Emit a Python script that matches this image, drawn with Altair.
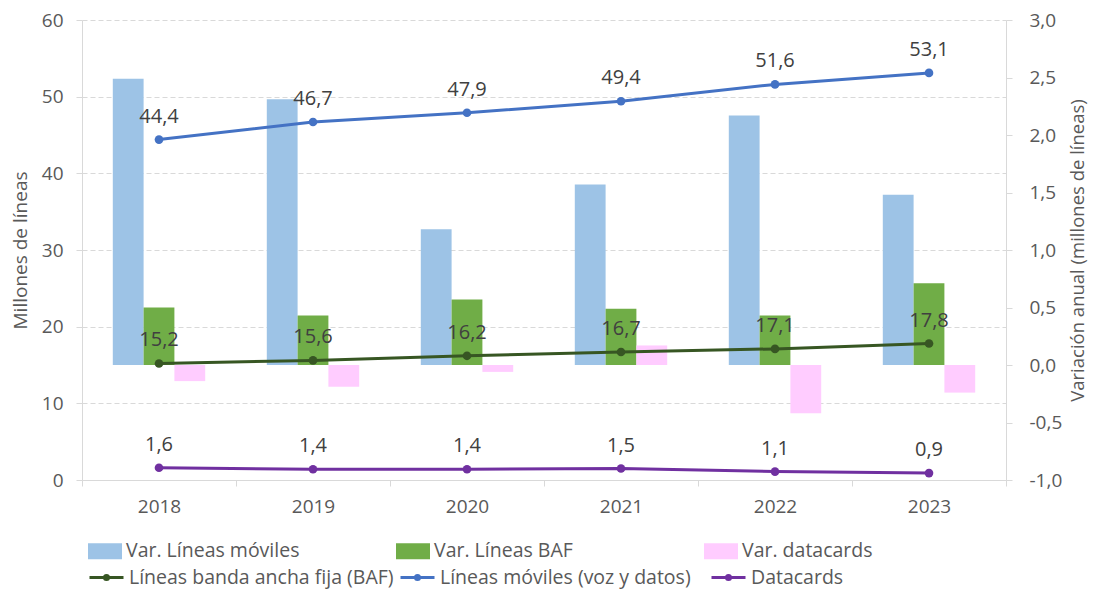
import altair as alt
import pandas as pd

years = ["2018", "2019", "2020", "2021", "2022", "2023"]

# Variación anual (eje derecho, millones de líneas)
var_moviles = [2.49, 2.31, 1.18, 1.57, 2.17, 1.48]
var_baf = [0.50, 0.43, 0.57, 0.49, 0.43, 0.71]
var_datacards = [-0.14, -0.19, -0.06, 0.17, -0.42, -0.24]

# Totales (eje izquierdo, millones de líneas)
lineas_baf = [15.2, 15.6, 16.2, 16.7, 17.1, 17.8]
lineas_moviles = [44.4, 46.7, 47.9, 49.4, 51.6, 53.1]
datacards = [1.6, 1.4, 1.4, 1.5, 1.1, 0.9]

bar_names = ["Var. Líneas móviles", "Var. Líneas BAF", "Var. datacards"]
bar_colors = ["#9DC3E6", "#70AD47", "#FFCCFF"]
line_names = ["Líneas banda ancha fija (BAF)", "Líneas móviles (voz y datos)", "Datacards"]
line_colors = ["#375623", "#4472C4", "#7030A0"]

FONT = "Open Sans"
TXT = "#595959"
GRID = "#D9D9D9"

bar_rows = []
for name, vals in zip(bar_names, [var_moviles, var_baf, var_datacards]):
    for y, v in zip(years, vals):
        bar_rows.append({"year": y, "serie": name, "value": v})
bar_df = pd.DataFrame(bar_rows)

line_rows = []
for name, vals in zip(line_names, [lineas_baf, lineas_moviles, datacards]):
    for y, v in zip(years, vals):
        line_rows.append({"year": y, "serie": name, "value": v,
                          "label": f"{v:.1f}".replace(".", ",")})
line_df = pd.DataFrame(line_rows)

x_enc = alt.X("year:N", sort=years, title=None,
              scale=alt.Scale(paddingInner=0, paddingOuter=0),
              axis=alt.Axis(labelFontSize=19, labelColor=TXT, labelFont=FONT,
                            tickBand="extent", tickSize=6, tickColor=GRID,
                            domainColor=GRID, labelPadding=11, grid=False,
                            labelAngle=0))

bars = alt.Chart(bar_df).mark_bar().encode(
    x=x_enc,
    xOffset=alt.XOffset("serie:N", sort=bar_names,
                        scale=alt.Scale(domain=bar_names, paddingInner=0, paddingOuter=1)),
    y=alt.Y("value:Q",
            scale=alt.Scale(domain=[-1, 3], nice=False, zero=True),
            axis=alt.Axis(orient="right", values=[-1, -0.5, 0, 0.5, 1, 1.5, 2, 2.5, 3],
                          labelExpr="replace(replace(format(datum.value, '.1f'), '.', ','), '\u2212', '-')",
                          labelFontSize=19, labelColor=TXT, labelFont=FONT,
                          tickSize=6, tickColor=GRID, domainColor=GRID, grid=False,
                          labelPadding=17,
                          title="Variación anual (millones de líneas)",
                          titleFontSize=18.5, titleColor=TXT, titleFont=FONT,
                          titleFontWeight="normal", titleAngle=270,
                          titleX=71, titleY=230, titleAlign="center",
                          titleBaseline="middle")),
    fill=alt.Fill("serie:N", sort=bar_names,
                  scale=alt.Scale(domain=bar_names, range=bar_colors),
                  legend=alt.Legend(orient="none", legendX=6, legendY=514,
                                    direction="horizontal", columns=3,
                                    columnPadding=96, gridAlign="all",
                                    title=None,
                                    symbolType="M-1,-0.47L1,-0.47L1,0.47L-1,0.47Z",
                                    symbolSize=1156, symbolStrokeWidth=0,
                                    labelFontSize=19.5, labelColor=TXT,
                                    labelFont=FONT, labelOffset=4,
                                    labelLimit=400)),
)

lines = alt.Chart(line_df).mark_line(
    strokeWidth=3, point=alt.OverlayMarkDef(filled=True, size=75)
).encode(
    x=alt.X("year:N", sort=years),
    y=alt.Y("value:Q",
            scale=alt.Scale(domain=[0, 60], nice=False),
            axis=alt.Axis(orient="left", values=[0, 10, 20, 30, 40, 50, 60],
                          format="d",
                          labelFontSize=19, labelColor=TXT, labelFont=FONT,
                          tickSize=6, tickColor=GRID, domainColor=GRID,
                          grid=True, gridColor=GRID, gridDash=[5, 3],
                          labelPadding=13,
                          title="Millones de líneas",
                          titleFontSize=19, titleColor=TXT, titleFont=FONT,
                          titleFontWeight="normal", titleAngle=270,
                          titleX=-62, titleY=230, titleAlign="center",
                          titleBaseline="middle")),
    color=alt.Color("serie:N", sort=line_names,
                    scale=alt.Scale(domain=line_names, range=line_colors),
                    legend=alt.Legend(orient="none", legendX=6, legendY=539,
                                      direction="horizontal", columns=3,
                                      columnPadding=0, gridAlign="all",
                                      title=None,
                                      symbolType="M-1,0L1,0M-0.12,0A0.12,0.12,0,1,1,0.12,0A0.12,0.12,0,1,1,-0.12,0",
                                      symbolSize=1156, symbolStrokeWidth=3,
                                      labelFontSize=19.5, labelColor=TXT,
                                      labelFont=FONT, labelOffset=4,
                                      labelLimit=400)),
)

labels = alt.Chart(line_df).mark_text(
    dy=-23, fontSize=20, font=FONT, color="#404040", baseline="middle"
).encode(
    x=alt.X("year:N", sort=years),
    y=alt.Y("value:Q", scale=alt.Scale(domain=[0, 60], nice=False)),
    text="label:N",
)

chart = alt.layer(bars, alt.layer(lines, labels)).resolve_scale(
    y="independent"
).properties(
    width=924, height=460,
    autosize=alt.AutoSizeParams(type="none"),
    padding={"left": 74, "top": 12, "right": 83, "bottom": 110},
    background="white",
).configure_view(stroke=None)

chart.save("out.html", embed_options={"renderer": "svg", "actions": False})
